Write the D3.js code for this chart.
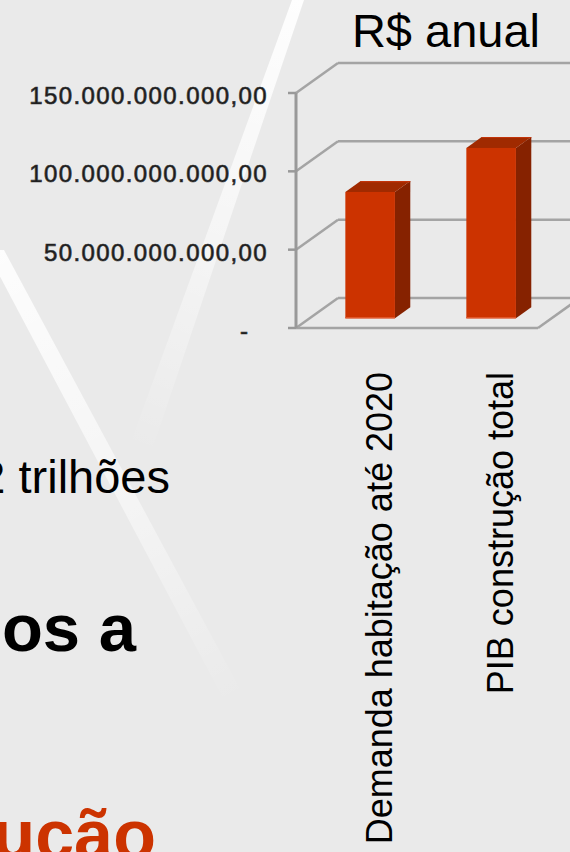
<!DOCTYPE html>
<html>
<head>
<meta charset="utf-8">
<script src="https://cdn.jsdelivr.net/npm/d3@7/dist/d3.min.js"></script>
<style>
  html, body { margin: 0; padding: 0; background: #eaeaea; overflow: hidden; }
  svg { display: block; }
</style>
</head>
<body>
<svg id="chart" width="570" height="852"></svg>
<script>
// Chart data
const categories = ["Demanda habitação até 2020", "PIB construção total"];
const values = [80.6e9, 108.7e9];
const yTicks = [0, 50e9, 100e9, 150e9];
const chartTitle = "R$ anual";

// Slide body fragments around the chart
const bodyLines = [
  { text: "2 trilhões", x: 170, y: 493, size: 47, weight: "normal", color: "#000" },
  { text: "nos a", x: 136, y: 651, size: 67, weight: "bold", color: "#000" },
  { text: "ução", x: 156, y: 859, size: 70, weight: "bold", color: "#cc3300" }
];

const W = 570, H = 852;
const svg = d3.select("#chart");
const font = "'Liberation Sans', Arial, Helvetica, sans-serif";

// Background
svg.append("rect").attr("width", W).attr("height", H).attr("fill", "#eaeaea");

// Light streaks across the slide
const defs = svg.append("defs");
function streakGrad(id, x1, y1, x2, y2, op) {
  const g = defs.append("linearGradient").attr("id", id)
    .attr("gradientUnits", "userSpaceOnUse")
    .attr("x1", x1).attr("y1", y1).attr("x2", x2).attr("y2", y2);
  g.append("stop").attr("offset", 0).attr("stop-color", "#fff").attr("stop-opacity", op);
  g.append("stop").attr("offset", 0.55).attr("stop-color", "#fff").attr("stop-opacity", op * 0.55);
  g.append("stop").attr("offset", 1).attr("stop-color", "#fff").attr("stop-opacity", 0);
}
streakGrad("s1", 298, 0, 135, 450, 0.95);
streakGrad("s2", 0, 250, 240, 700, 0.9);
svg.append("polygon")
  .attr("points", "292,0 304,0 152,450 128,450")
  .attr("fill", "url(#s1)");
svg.append("polygon")
  .attr("points", "-14,250 4,250 246,700 224,700")
  .attr("fill", "url(#s2)");

// Plot geometry (front plane + depth offset)
const x0 = 296, x1 = 538;
const depth = { dx: 42, dy: -30 };
const y = d3.scaleLinear().domain([0, 150e9]).range([328, 93]);
const xBand = d3.scaleBand().domain(categories).range([x0, x1])
  .paddingInner(0.59).paddingOuter(0.295);

const grid = svg.append("g").attr("stroke", "#a4a4a4").attr("stroke-width", 2.5).attr("fill", "none");
// back wall gridlines
grid.selectAll("line.back").data(yTicks).join("line")
  .attr("x1", x0 + depth.dx).attr("x2", x1 + depth.dx)
  .attr("y1", d => y(d) + depth.dy).attr("y2", d => y(d) + depth.dy);
// side wall gridlines
grid.selectAll("line.side").data(yTicks).join("line")
  .attr("x1", x0).attr("y1", d => y(d))
  .attr("x2", x0 + depth.dx).attr("y2", d => y(d) + depth.dy);
// floor front and right edges
grid.append("line").attr("x1", x0).attr("x2", x1).attr("y1", y(0)).attr("y2", y(0));
grid.append("line").attr("x1", x1).attr("y1", y(0))
  .attr("x2", x1 + depth.dx).attr("y2", y(0) + depth.dy);

// value axis line and ticks
const axis = svg.append("g").attr("stroke", "#999").attr("fill", "none");
axis.append("line").attr("x1", x0).attr("x2", x0)
  .attr("y1", y(150e9)).attr("y2", y(0)).attr("stroke-width", 3);
axis.selectAll("line.tick").data(yTicks).join("line")
  .attr("x1", x0 - 8).attr("x2", x0).attr("stroke-width", 2.5)
  .attr("y1", d => y(d)).attr("y2", d => y(d));

// tick labels in Brazilian number format
const br = d3.formatLocale({ decimal: ",", thousands: ".", grouping: [3], currency: ["R$", ""] });
const fmt = br.format(",.2f");
svg.append("g").selectAll("text").data(yTicks).join("text")
  .attr("x", d => d === 0 ? 248 : 268)
  .attr("y", d => y(d) + 11)
  .attr("text-anchor", "end")
  .attr("font-family", font)
  .attr("font-size", 24)
  .attr("letter-spacing", d => d === 0 ? 0 : 1.4)
  .attr("fill", "#1a1a1a")
  .attr("stroke", "#333").attr("stroke-width", 0.7)
  .text(d => d === 0 ? "-" : fmt(d));

// 3D bars
const fFront = 0.325, fBack = 0.69;
const bw = xBand.bandwidth();
const bars = svg.append("g");
categories.forEach((c, i) => {
  const v = values[i];
  const xl = xBand(c) + depth.dx * fFront;
  const xr = xl + bw;
  const yt = y(v) + depth.dy * fFront;
  const yb = y(0) + depth.dy * fFront;
  const ddx = depth.dx * (fBack - fFront), ddy = depth.dy * (fBack - fFront);
  const g = bars.append("g");
  g.append("polygon")
    .attr("points", [[xr, yt], [xr + ddx, yt + ddy], [xr + ddx, yb + ddy], [xr, yb]].join(" "))
    .attr("fill", "#862200");
  g.append("polygon")
    .attr("points", [[xl, yt], [xr, yt], [xr + ddx, yt + ddy], [xl + ddx, yt + ddy]].join(" "))
    .attr("fill", "#a02a00");
  g.append("rect")
    .attr("x", xl).attr("y", yt).attr("width", bw).attr("height", yb - yt)
    .attr("fill", "#cc3300");
  g.append("line")
    .attr("x1", xl).attr("x2", xr).attr("y1", yb - 0.5).attr("y2", yb - 0.5)
    .attr("stroke", "#e0562a").attr("stroke-width", 1.5);
  g.append("line")
    .attr("x1", xl + ddx).attr("x2", xr + ddx).attr("y1", yt + ddy + 0.5).attr("y2", yt + ddy + 0.5)
    .attr("stroke", "#c2340a").attr("stroke-width", 1.2);
});

// category labels, rotated
svg.append("g").selectAll("text").data(categories).join("text")
  .attr("transform", d => `translate(${xBand(d) + xBand.bandwidth() / 2 + 35},372) rotate(-90)`)
  .attr("text-anchor", "end")
  .attr("font-family", font)
  .attr("font-size", 36)
  .attr("fill", "#000")
  .text(d => d);

// chart title
svg.append("text")
  .attr("x", 446).attr("y", 47)
  .attr("text-anchor", "middle")
  .attr("font-family", font)
  .attr("font-size", 47)
  .attr("fill", "#000")
  .text(chartTitle);

// body text fragments
svg.append("g").selectAll("text").data(bodyLines).join("text")
  .attr("x", d => d.x).attr("y", d => d.y)
  .attr("text-anchor", "end")
  .attr("font-family", font)
  .attr("font-size", d => d.size)
  .attr("font-weight", d => d.weight)
  .attr("fill", d => d.color)
  .text(d => d.text);
</script>
</body>
</html>
